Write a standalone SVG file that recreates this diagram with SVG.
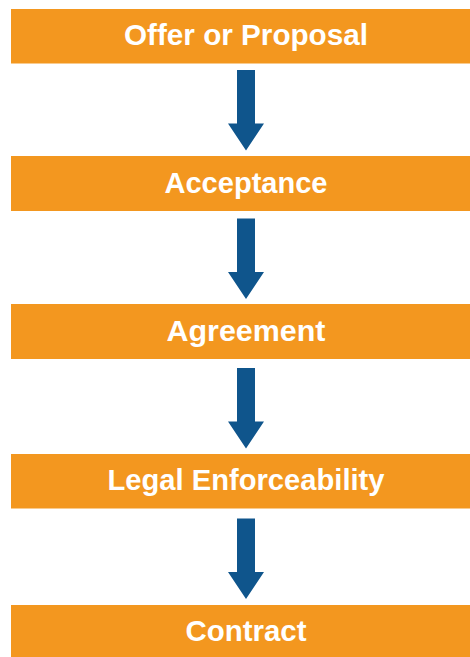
<svg xmlns="http://www.w3.org/2000/svg" width="470" height="657" viewBox="0 0 470 657">
  <style>
    .step rect { fill: #F3971F; }
    .step text { fill: #FFFFFF; font-family: "Liberation Sans", Arial, sans-serif; font-weight: bold; font-size: 30px; text-anchor: middle; }
    .arrow { fill: #0F558C; }
  </style>
  <defs>
    <!-- block arrow pointing down, origin at the top centre of the shaft -->
    <path id="down" d="M-9,0 H9 V53.5 H18 L0,80.5 L-18,53.5 H-9 Z"/>
  </defs>
  <rect width="470" height="657" fill="#FFFFFF"/>

  <g id="connectors">
    <use href="#down" class="arrow" x="246" y="70"/>
    <use href="#down" class="arrow" x="246" y="218.5"/>
    <use href="#down" class="arrow" x="246" y="368"/>
    <use href="#down" class="arrow" x="246" y="518.5"/>
  </g>

  <g id="offer" class="step">
    <rect x="11" y="9" width="470" height="54.5"/>
    <text x="246" y="45" textLength="244" lengthAdjust="spacingAndGlyphs">Offer or Proposal</text>
  </g>
  <g id="acceptance" class="step">
    <rect x="11" y="156" width="470" height="55"/>
    <text x="246" y="192.5" textLength="163" lengthAdjust="spacingAndGlyphs">Acceptance</text>
  </g>
  <g id="agreement" class="step">
    <rect x="11" y="304" width="470" height="55"/>
    <text x="246" y="340.5" textLength="159" lengthAdjust="spacingAndGlyphs">Agreement</text>
  </g>
  <g id="enforceability" class="step">
    <rect x="11" y="454" width="470" height="54.5"/>
    <text x="246" y="490" textLength="277" lengthAdjust="spacingAndGlyphs">Legal Enforceability</text>
  </g>
  <g id="contract" class="step">
    <rect x="11" y="605" width="470" height="55"/>
    <text x="246" y="641" textLength="121" lengthAdjust="spacingAndGlyphs">Contract</text>
  </g>
</svg>
